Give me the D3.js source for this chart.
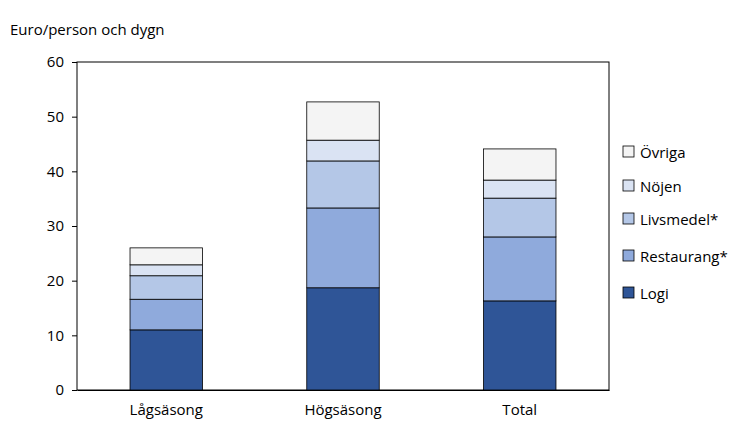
<!DOCTYPE html>
<html><head><meta charset="utf-8">
<script src="https://cdn.jsdelivr.net/npm/d3@7"></script>
<style>body{margin:0;background:#fff}text{font-family:"Open Sans",sans-serif;fill:#000}</style>
</head><body><div id="chart"></div>
<script>
var categories = ["Lågsäsong", "Högsäsong", "Total"];
var seriesNames = ["Logi", "Restaurang*", "Livsmedel*", "Nöjen", "Övriga"];
var logi = [11.0, 18.7, 16.3];
var restaurang = [5.6, 14.6, 11.7];
var livsmedel = [4.3, 8.6, 7.1];
var nojen = [2.0, 3.8, 3.3];
var ovriga = [3.1, 7.0, 5.7];
var yTicks = [0, 10, 20, 30, 40, 50, 60];

var colors = ["#2f5597", "#8faadc", "#b4c7e7", "#dae3f3", "#f4f4f4"];
var W = 755, H = 443;
var m = {left: 77, right: 146, top: 62, bottom: 53};

var svg = d3.select('#chart').append('svg').attr('width', W).attr('height', H);

var rows = categories.map(function (c, i) {
    return {cat: c, "Logi": logi[i], "Restaurang*": restaurang[i], "Livsmedel*": livsmedel[i], "Nöjen": nojen[i], "Övriga": ovriga[i]};
});
var stack = d3.stack().keys(seriesNames)(rows);

var x = d3.scaleBand().domain(categories).range([m.left, W - m.right]).paddingInner(0.59).paddingOuter(0.3);
var y = d3.scaleLinear().domain([0, 60]).range([H - m.bottom, m.top]);

// plot frame
svg.append('rect').attr('x', m.left).attr('y', m.top)
    .attr('width', W - m.left - m.right).attr('height', H - m.top - m.bottom)
    .attr('fill', 'none').attr('stroke', '#000').attr('stroke-width', 1);

stack.forEach(function (s, k) {
    svg.append('g').selectAll('rect').data(s).enter().append('rect')
        .attr('x', function (d) { return x(d.data.cat); })
        .attr('width', x.bandwidth())
        .attr('y', function (d) { return y(d[1]); })
        .attr('height', function (d) { return y(d[0]) - y(d[1]); })
        .attr('fill', colors[k]).attr('stroke', '#000').attr('stroke-width', 0.8);
});

var ya = svg.append('g').attr('transform', 'translate(' + m.left + ',0)')
    .call(d3.axisLeft(y).tickValues(yTicks).tickSize(5).tickPadding(8));
ya.selectAll('text').style('font-size', '15px');
ya.select('.domain').remove();
ya.selectAll('line').attr('x1', 0).attr('x2', -5);

var xa = svg.append('g').attr('transform', 'translate(0,' + (H - m.bottom) + ')')
    .call(d3.axisBottom(x).tickSize(0).tickPadding(14));
xa.selectAll('text').style('font-size', '15px');
xa.select('.domain').attr('stroke', '#000');

svg.append('text').attr('x', 10).attr('y', 35).style('font-size', '15px').text('Euro/person och dygn');

var legendY = [293, 256, 219, 186, 152];
seriesNames.forEach(function (n, k) {
    svg.append('rect').attr('x', 623).attr('y', legendY[k] - 6).attr('width', 11).attr('height', 11)
        .attr('fill', colors[k]).attr('stroke', '#000').attr('stroke-width', 0.8);
    svg.append('text').attr('x', 640).attr('y', legendY[k] + 6).style('font-size', '15px').text(n);
});
</script></body></html>
